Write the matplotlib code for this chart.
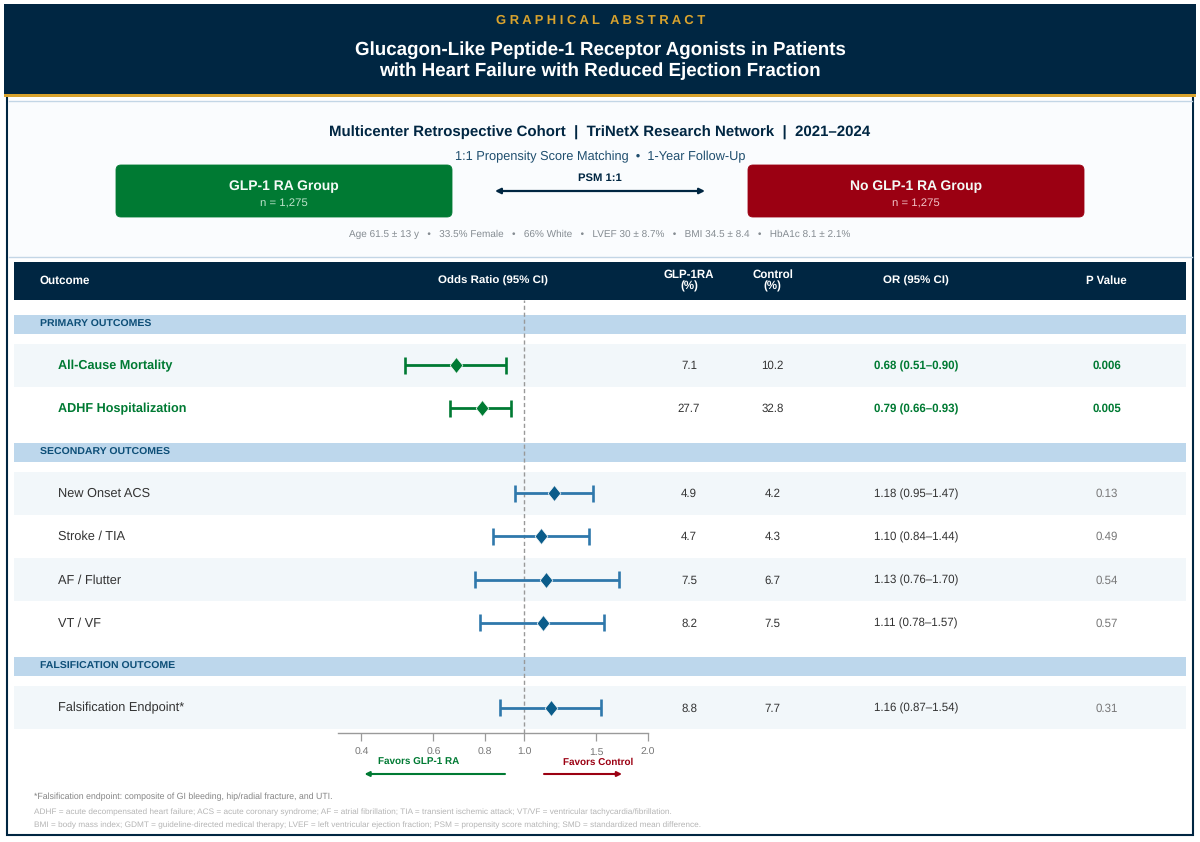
import matplotlib
matplotlib.use("Agg")
import matplotlib.pyplot as plt
from matplotlib.patches import Rectangle, FancyBboxPatch
from matplotlib.ticker import NullLocator

plt.rcParams['font.family'] = ['Liberation Sans', 'DejaVu Sans']
plt.rcParams['text.hinting'] = 'no_hinting'

# ---- data ----
outcomes = ["All-Cause Mortality", "ADHF Hospitalization", "New Onset ACS", "Stroke / TIA",
            "AF / Flutter", "VT / VF", "Falsification Endpoint*"]
or_values = [0.68, 0.79, 1.18, 1.10, 1.13, 1.11, 1.16]
ci_low = [0.51, 0.66, 0.95, 0.84, 0.76, 0.78, 0.87]
ci_high = [0.90, 0.93, 1.47, 1.44, 1.70, 1.57, 1.54]
glp_pct = ["7.1", "27.7", "4.9", "4.7", "7.5", "8.2", "8.8"]
control_pct = ["10.2", "32.8", "4.2", "4.3", "6.7", "7.5", "7.7"]
or_labels = ["0.68 (0.51–0.90)", "0.79 (0.66–0.93)", "1.18 (0.95–1.47)", "1.10 (0.84–1.44)",
             "1.13 (0.76–1.70)", "1.11 (0.78–1.57)", "1.16 (0.87–1.54)"]
p_values = ["0.006", "0.005", "0.13", "0.49", "0.54", "0.57", "0.31"]
significant = [True, True, False, False, False, False, False]
section_names = ["PRIMARY OUTCOMES", "SECONDARY OUTCOMES", "FALSIFICATION OUTCOME"]
axis_ticks = [0.4, 0.6, 0.8, 1.0, 1.5, 2.0]
axis_tick_labels = ["0.4", "0.6", "0.8", "1.0", "1.5", "2.0"]

# ---- layout (pixels) ----
W, H = 1200, 842
row_y = [365, 408, 493, 536, 579.5, 622.5, 707.5]
striped = [True, False, True, False, True, False, True]
section_y = [324.5, 452.5, 666.5]
NAVY = "#002642"
GOLD = "#D9A32E"
GREEN = "#007A33"
RED = "#9B0012"
BAND = "#BDD7EC"
STRIPE = "#F2F7FA"
BLUE = "#2F78AB"
DBLUE = "#0B5C8A"
col_glp, col_ctl, col_or, col_p = 689, 772.5, 916, 1106.5

fig = plt.figure(figsize=(W / 100, H / 100), dpi=100, facecolor="white")
bg = fig.add_axes([0, 0, 1, 1])
bg.set_xlim(0, W)
bg.set_ylim(H, 0)
bg.axis("off")

def rect(x0, y0, x1, y1, fc, ec="none", lw=0, z=1):
    bg.add_patch(Rectangle((x0, y0), x1 - x0, y1 - y0, facecolor=fc, edgecolor=ec, linewidth=lw, zorder=z))

def txt(x, y, s, size, color, weight="normal", ha="center", z=6, ls=1.0):
    bg.text(x, y + 0.8, s, fontsize=size, color=color, fontweight=weight, ha=ha, va="center", zorder=z, linespacing=ls)

# outer frame and header
rect(7.3, 94, 1192.7, 835.2, "white", NAVY, 1.5, 1)
rect(4, 4, 1196, 94.5, NAVY, z=3)
rect(4, 94, 1196, 97, GOLD, z=3)
rect(8.5, 100.5, 1191.5, 256.5, "#FAFCFE", "none", 0, 2)
bg.plot([8.5, 1191.5], [100.5, 100.5], color="#C3D6E6", lw=1, zorder=2)
bg.plot([8.5, 1191.5], [256.5, 256.5], color="#C3D6E6", lw=1, zorder=2)
txt(601, 20, "G R A P H I C A L   A B S T R A C T", 9.4, GOLD, "bold")
txt(600, 49, "Glucagon-Like Peptide-1 Receptor Agonists in Patients", 13.5, "white", "bold")
txt(600, 70.5, "with Heart Failure with Reduced Ejection Fraction", 13.5, "white", "bold")

# study panel
txt(600, 132, "Multicenter Retrospective Cohort  |  TriNetX Research Network  |  2021–2024", 10.8, NAVY, "bold")
txt(600, 156.5, "1:1 Propensity Score Matching  •  1-Year Follow-Up", 9.15, "#1F4E6E")
for x0, x1, c, name, nc in [(116, 452, GREEN, "GLP-1 RA Group", "#BFE3CC"), (748, 1084, RED, "No GLP-1 RA Group", "#F2C4C8")]:
    bg.add_patch(FancyBboxPatch((x0 + 4, 165 + 4), x1 - x0 - 8, 52 - 8, boxstyle="round,pad=4,rounding_size=5",
                                facecolor=c, edgecolor=c, linewidth=0.6, zorder=3))
    txt((x0 + x1) / 2, 185.5, name, 10, "#F4FAF6", "bold")
    txt((x0 + x1) / 2, 202.5, "n = 1,275", 8.2, nc)
txt(600, 177, "PSM 1:1", 8.1, NAVY, "bold")
bg.annotate("", xy=(495, 191), xytext=(705, 191),
            arrowprops=dict(arrowstyle="<|-|>", color=NAVY, lw=1.6, mutation_scale=8, shrinkA=0, shrinkB=0), zorder=4)
txt(600, 233.5, "Age 61.5 ± 13 y   •   33.5% Female   •   66% White   •   LVEF 30 ± 8.7%   •   BMI 34.5 ± 8.4   •   HbA1c 8.1 ± 2.1%", 7.2, "#858C92")

# table header
rect(14, 262, 1186, 300, NAVY, z=3)
txt(40, 280, "Outcome", 8.4, "white", "bold", ha="left")
txt(493, 280, "Odds Ratio (95% CI)", 8.25, "white", "bold")
txt(col_glp, 280, "GLP-1RA\n(%)", 8.3, "white", "bold", ls=1.08)
txt(col_ctl, 280, "Control\n(%)", 8.3, "white", "bold", ls=1.08)
txt(col_or, 280, "OR (95% CI)", 8.25, "white", "bold")
txt(col_p, 280, "P Value", 8.3, "white", "bold")

# sections
for name, y in zip(section_names, section_y):
    rect(14, y - 9.5, 1186, y + 9.5, BAND, z=2)
    txt(40, y - 0.7, name, 7.55, "#0E4F78", "bold", ha="left")

# rows
for i, y in enumerate(row_y):
    if striped[i]:
        rect(14, y - 21.5, 1186, y + 21.5, STRIPE, z=2)
    sig = significant[i]
    txt(58, y, outcomes[i], 9.1 if sig else 9.2, GREEN if sig else "#333333", "bold" if sig else "normal", ha="left")
    txt(col_glp, y + 0.4, glp_pct[i], 8.3, "#333333")
    txt(col_ctl, y + 0.4, control_pct[i], 8.3, "#333333")
    txt(col_or, y + 0.4, or_labels[i], 8.3, GREEN if sig else "#333333", "bold" if sig else "normal")
    txt(col_p, y + 0.4, p_values[i], 8.3, GREEN if sig else "#777777", "bold" if sig else "normal")

# forest axes: log scale
ax_left, ax_right, ax_top, ax_bottom = 338, 647.5, 300, 733
ax = fig.add_axes([ax_left / W, 1 - ax_bottom / H, (ax_right - ax_left) / W, (ax_bottom - ax_top) / H])
ax.patch.set_alpha(0)
ax.set_xscale("log")
ax.set_xlim(0.3507, 2.0)
ax.set_ylim(ax_bottom, ax_top)
for s in ["top", "left", "right"]:
    ax.spines[s].set_visible(False)
ax.spines["bottom"].set_color("#9A9A9A")
ax.spines["bottom"].set_linewidth(1.0)
ax.set_xticks(axis_ticks)
ax.set_xticklabels(axis_tick_labels)
ax.xaxis.set_minor_locator(NullLocator())
ax.tick_params(axis="x", length=6, width=0.9, color="#9A9A9A", labelsize=7.5, labelcolor="#777777", pad=4.5)
ax.set_yticks([])
ax.axvline(1.0, color="#999999", lw=1, ls=(0, (3, 2)), zorder=1)
diamond = [(-0.8, 0), (0, 1), (0.8, 0), (0, -1), (-0.8, 0)]
for i, y in enumerate(row_y):
    lc = GREEN if significant[i] else BLUE
    mc = GREEN if significant[i] else DBLUE
    ax.plot([ci_low[i], ci_high[i]], [y, y], color=lc, lw=2, zorder=2, solid_capstyle="butt")
    for v in (ci_low[i], ci_high[i]):
        ax.plot([v, v], [y - 8.5, y + 8.5], color=lc, lw=1.9, zorder=2, solid_capstyle="butt")
    ax.plot(or_values[i], y, marker=diamond, color=mc, ms=11.5, mec="white", mew=0.5, zorder=3)

# favours annotations
txt(419, 761.5, "Favors GLP-1 RA", 7.1, GREEN, "bold")
txt(598, 761.5, "Favors Control", 7.1, RED, "bold")
bg.annotate("", xy=(364.5, 774), xytext=(505, 774),
            arrowprops=dict(arrowstyle="-|>", color=GREEN, lw=1.5, mutation_scale=7, shrinkA=0, shrinkB=0), zorder=4)
bg.annotate("", xy=(622, 774), xytext=(544, 774),
            arrowprops=dict(arrowstyle="-|>", color=RED, lw=1.5, mutation_scale=7, shrinkA=0, shrinkB=0), zorder=4)

# footnotes
txt(34, 796, "*Falsification endpoint: composite of GI bleeding, hip/radial fracture, and UTI.", 6.35, "#858585", ha="left")
txt(34, 811, "ADHF = acute decompensated heart failure; ACS = acute coronary syndrome; AF = atrial fibrillation; TIA = transient ischemic attack; VT/VF = ventricular tachycardia/fibrillation.", 5.97, "#B5B5B5", ha="left")
txt(34, 824.5, "BMI = body mass index; GDMT = guideline-directed medical therapy; LVEF = left ventricular ejection fraction; PSM = propensity score matching; SMD = standardized mean difference.", 5.97, "#B5B5B5", ha="left")

fig.savefig("out.png", dpi=100, facecolor="white")
